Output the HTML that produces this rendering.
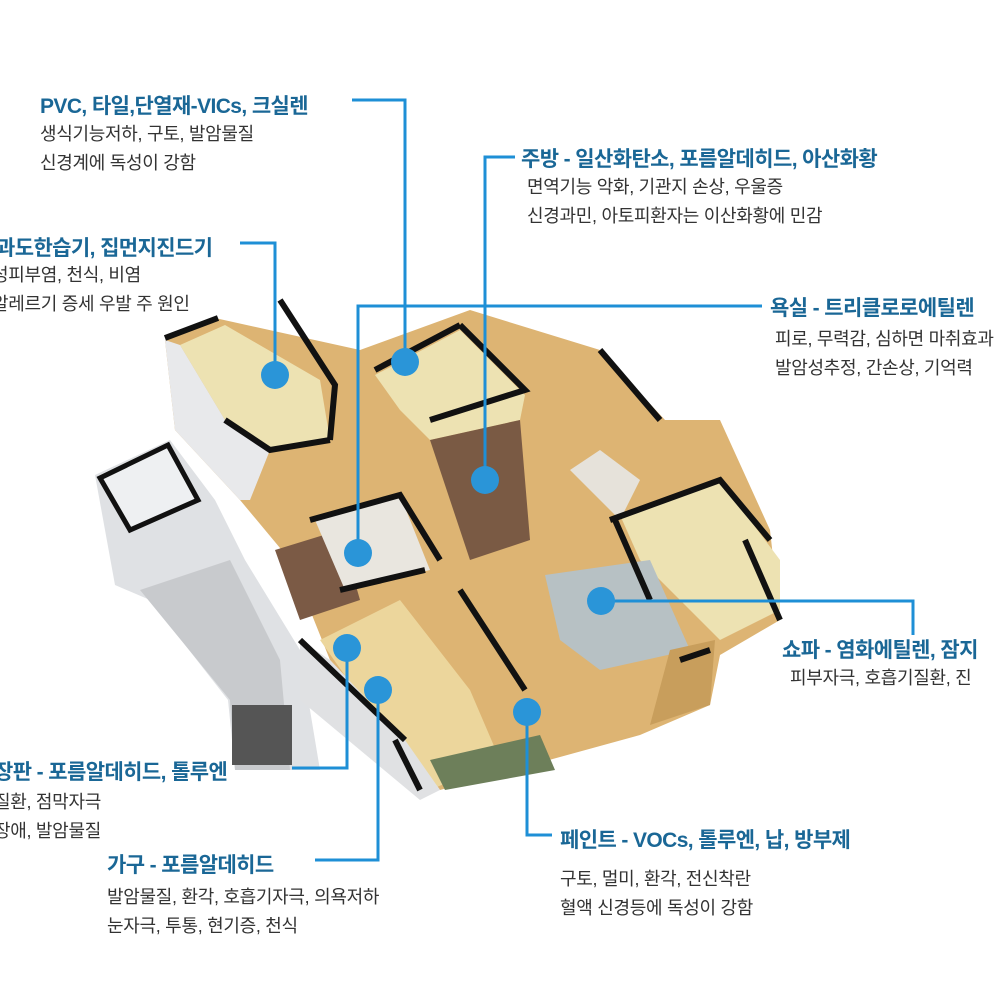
<!DOCTYPE html>
<html><head><meta charset="utf-8"><style>
body{margin:0;background:#fff;width:1000px;height:1000px;overflow:hidden;position:relative;font-family:"Liberation Sans","Noto Sans CJK KR",sans-serif}
.t{position:absolute;font-size:21px;font-weight:bold;color:#1a6796;white-space:nowrap;letter-spacing:-0.6px}
.d{position:absolute;font-size:18px;color:#333;white-space:nowrap;line-height:29px;letter-spacing:-0.3px}
svg{position:absolute;left:0;top:0}
</style></head><body>
<svg width="1000" height="1000">
<polygon points="95,475 170,440 215,500 245,560 300,650 320,770 235,770 228,700 150,600 115,585" fill="#dfe1e4"/>
<polygon points="140,590 230,560 280,660 290,770 235,770 230,700" fill="#c8cacd"/>
<rect x="232" y="705" width="60" height="60" fill="#555"/>
<polygon points="100,478 168,445 198,500 130,530" fill="#eef0f2" stroke="#111" stroke-width="5"/>
<polygon points="165,340 215,318 360,350 470,310 600,350 665,420 720,420 770,530 780,620 720,655 710,705 640,735 440,790 405,740 330,660 290,560 240,500 175,430" fill="#ddb473"/>
<polygon points="180,345 225,325 320,380 330,440 270,450 225,420" fill="#ede2b2"/>
<polygon points="375,375 460,330 525,395 520,420 430,440 400,410" fill="#ede2b2"/>
<polygon points="620,515 720,480 780,560 780,610 720,640 640,560" fill="#ede2b2"/>
<polygon points="320,640 400,600 470,690 500,760 430,790 390,740" fill="#ecd69c"/>
<polygon points="545,575 650,560 690,650 600,670 560,640" fill="#b7c1c4"/>
<polygon points="430,440 520,420 530,540 470,560" fill="#7a5a44"/>
<polygon points="275,550 340,530 360,600 300,620" fill="#7b5a45"/>
<polygon points="315,520 400,495 430,570 345,590" fill="#e9e6df"/>
<polygon points="570,470 600,450 640,480 620,520" fill="#e6e2da"/>
<polygon points="430,760 540,735 555,770 445,790" fill="#6d7f5a"/>
<polygon points="670,650 715,640 710,705 650,725" fill="#c89e5c"/>
<polygon points="165,340 180,345 225,420 270,450 250,500 240,500 175,430" fill="#e8e9eb"/>
<polygon points="300,640 330,660 405,740 440,790 420,800 300,700" fill="#e0e1e3"/>
<g stroke="#111" stroke-width="6" fill="none">
<polyline points="165,338 218,318"/>
<polyline points="280,300 335,385 330,440"/>
<polyline points="225,420 270,450 330,440"/>
<polyline points="375,370 460,325"/>
<polyline points="460,325 525,390 430,420"/>
<polyline points="600,350 660,420"/>
<polyline points="610,520 720,480 770,540"/>
<polyline points="615,520 650,600"/>
<polyline points="745,540 780,620"/>
<polyline points="310,520 400,495 440,560"/>
<polyline points="340,590 425,570"/>
<polyline points="300,640 405,740"/>
<polyline points="460,590 525,690"/>
<polyline points="710,650 680,660"/>
<polyline points="420,790 395,740"/>
</g>
<g stroke="#1e8fd6" stroke-width="3" fill="none">
<polyline points="352,100 405,100 405,362"/>
<polyline points="515,157 485,157 485,480"/>
<polyline points="240,243 275,243 275,375"/>
<polyline points="762,306 358,306 358,553"/>
<polyline points="601,601 913,601 913,635"/>
<polyline points="292,768 347,768 347,648"/>
<polyline points="315,860 378,860 378,690"/>
<polyline points="527,712 527,835 552,835"/>
</g>
<g fill="#2a95d8">
<circle cx="405" cy="362" r="14"/><circle cx="485" cy="480" r="14"/>
<circle cx="275" cy="375" r="14"/><circle cx="358" cy="553" r="14"/>
<circle cx="601" cy="601" r="14"/><circle cx="347" cy="648" r="14"/>
<circle cx="378" cy="690" r="14"/><circle cx="527" cy="712" r="14"/>
</g>
</svg>
<div class="t" style="left:40px;top:90px">PVC, 타일,단열재-VICs, 크실렌</div>
<div class="d" style="left:40px;top:120px">생식기능저하, 구토, 발암물질<br>신경계에 독성이 강함</div>
<div class="t" style="left:521px;top:143px">주방 - 일산화탄소, 포름알데히드, 아산화황</div>
<div class="d" style="left:527px;top:173px">면역기능 악화, 기관지 손상, 우울증<br>신경과민, 아토피환자는 이산화황에 민감</div>
<div class="t" style="left:-4px;top:232px">과도한습기, 집먼지진드기</div>
<div class="d" style="left:-8px;top:261px">성피부염, 천식, 비염<br>알레르기 증세 우발 주 원인</div>
<div class="t" style="left:770px;top:292px">욕실 - 트리클로로에틸렌</div>
<div class="d" style="left:775px;top:325px">피로, 무력감, 심하면 마취효과<br>발암성추정, 간손상, 기억력</div>
<div class="t" style="left:782px;top:634px">쇼파 - 염화에틸렌, 잠지</div>
<div class="d" style="left:790px;top:664px">피부자극, 호흡기질환, 진</div>
<div class="t" style="left:-6px;top:756px">장판 - 포름알데히드, 톨루엔</div>
<div class="d" style="left:-6px;top:788px">질환, 점막자극<br>장애, 발암물질</div>
<div class="t" style="left:107px;top:849px">가구 - 포름알데히드</div>
<div class="d" style="left:107px;top:883px">발암물질, 환각, 호흡기자극, 의욕저하<br>눈자극, 투통, 현기증, 천식</div>
<div class="t" style="left:560px;top:824px">페인트 - VOCs, 톨루엔, 납, 방부제</div>
<div class="d" style="left:560px;top:865px">구토, 멀미, 환각, 전신착란<br>혈액 신경등에 독성이 강함</div>
</body></html>
